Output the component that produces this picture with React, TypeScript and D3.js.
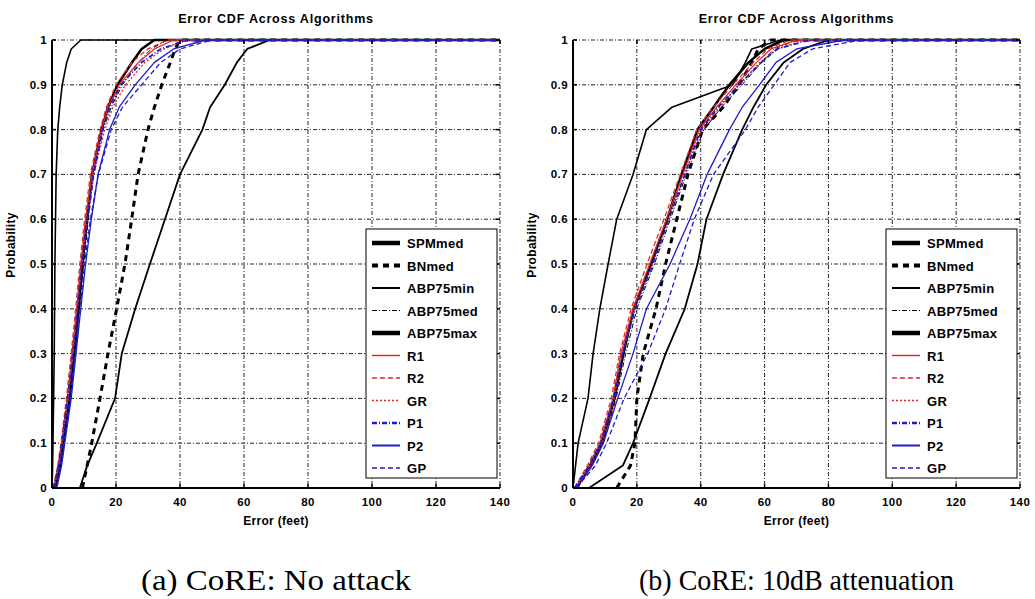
import React from 'react';
import * as d3 from 'd3';

// probability levels shared by every CDF series (last 1 repeated to run flat to 140)
const PROBS = [0, 0.05, 0.1, 0.2, 0.3, 0.4, 0.5, 0.6, 0.7, 0.8, 0.85, 0.9, 0.95, 0.98, 1, 1];

const X_TICKS = [0, 20, 40, 60, 80, 100, 120, 140];
const Y_TICKS = [0, 0.1, 0.2, 0.3, 0.4, 0.5, 0.6, 0.7, 0.8, 0.9, 1];

const SERIES = ['SPMmed', 'BNmed', 'ABP75min', 'ABP75med', 'ABP75max', 'R1', 'R2', 'GR', 'P1', 'P2', 'GP'];

// (a) no attack — error (feet) at each probability level
const aSPMmed = [1, 2.5, 3.5, 5.5, 7, 8.3, 9.5, 11, 12.5, 15.5, 17.5, 20.5, 25, 28, 32, 140];
const aBNmed = [9.5, 11, 12.4, 15, 17.5, 20.2, 22.8, 24.9, 26.9, 30, 32, 34.3, 37, 38.5, 40, 140];
const aABP75min = [0, 0.2, 0.3, 0.5, 0.7, 0.8, 0.9, 1.1, 1.3, 1.8, 2.4, 3.2, 4.6, 6, 9, 140];
const aABP75med = [1.2, 2.7, 3.7, 5.8, 7.3, 8.6, 9.9, 11.4, 13, 16, 18.5, 22, 27, 31, 36, 140];
const aABP75max = [8.7, 11, 14, 19.7, 21.8, 26, 30.6, 35.3, 40, 47, 49.4, 54, 57.8, 61, 68, 140];
const aR1 = [0.5, 2, 3, 4.8, 6.3, 7.7, 9, 10.5, 12.5, 15.5, 17.5, 21, 27, 32, 38, 140];
const aR2 = [0.3, 1.8, 2.8, 4.5, 6, 7.4, 8.7, 10.2, 12, 15, 17, 20, 25, 30, 36, 140];
const aGR = [0.8, 2.2, 3.2, 5, 6.6, 8, 9.4, 11, 13, 16.5, 19, 23, 29, 35, 42, 140];
const aP1 = [0.5, 2, 3, 4.9, 6.5, 8, 9.3, 11, 13, 15.8, 18, 21.5, 28, 34, 42, 140];
const aP2 = [1.5, 3, 4, 6, 7.5, 9, 10.5, 12.3, 14.4, 18, 21, 26, 32, 38, 48, 140];
const aGP = [1, 2.5, 3.6, 5.6, 7.2, 8.7, 10.2, 12, 14.5, 18.5, 22, 28, 34, 40, 50, 140];

// (b) 10dB attenuation
const bSPMmed = [1, 5.5, 9, 13, 15.8, 19, 24.5, 29.5, 34, 39, 44, 49, 55, 60, 66, 140];
const bBNmed = [13.7, 18, 19.4, 20, 22, 26, 29, 32.5, 36, 40.6, 47, 52, 56, 58, 62, 140];
const bABP75min = [0, 0.8, 1.6, 4.7, 6.3, 8.4, 11, 13.7, 18.8, 23, 31, 50, 54, 56, 65, 140];
const bABP75med = [1.5, 6, 9.5, 13.5, 16.5, 20, 25.5, 30.5, 35.5, 41, 46.5, 53, 59, 63, 70, 140];
const bABP75max = [5, 15.6, 18.8, 24, 29, 35, 39, 41.8, 47, 53, 56.5, 60.5, 66, 72, 80, 140];
const bR1 = [1, 5, 8.4, 12.5, 15, 18.8, 24, 29.3, 34.4, 39.6, 45, 51, 57.5, 62, 70, 140];
const bR2 = [0.5, 4.5, 8, 12, 14.6, 18.2, 23.2, 28.5, 33.6, 38.8, 44, 50, 56.5, 61, 68, 140];
const bGR = [1.5, 5.5, 9, 13, 15.5, 19.3, 24.8, 30, 35, 40.5, 46, 52, 58.5, 64, 72, 140];
const bP1 = [0.5, 5, 8.7, 12.7, 15.5, 19.5, 25, 30, 35, 40, 45.5, 52, 59, 64, 74, 140];
const bP2 = [1, 6, 9.5, 14, 18.8, 23, 30.4, 36.6, 42, 49, 53, 58.4, 63.6, 70, 85, 140];
const bGP = [1, 7, 10.5, 16, 23.4, 29, 33.4, 38, 44, 54, 58, 63, 68, 75, 90, 140];

const PANEL_A = [aSPMmed, aBNmed, aABP75min, aABP75med, aABP75max, aR1, aR2, aGR, aP1, aP2, aGP];
const PANEL_B = [bSPMmed, bBNmed, bABP75min, bABP75med, bABP75max, bR1, bR2, bGR, bP1, bP2, bGP];

const RED = '#e02a2a';
const BLUE = '#1c1cc8';
const STYLES: Record<string, { color: string; width: number; dash?: string; legendWidth?: number }> = {
  SPMmed: { color: '#000', width: 2.5, legendWidth: 4.5 },
  BNmed: { color: '#000', width: 3, dash: '6,5', legendWidth: 4 },
  ABP75min: { color: '#000', width: 1.6, legendWidth: 2 },
  ABP75med: { color: '#000', width: 1, dash: '5,2,1,2', legendWidth: 1 },
  ABP75max: { color: '#000', width: 1.8, legendWidth: 4.5 },
  R1: { color: RED, width: 1.3, legendWidth: 1.5 },
  R2: { color: RED, width: 1.3, dash: '5,3', legendWidth: 1.5 },
  GR: { color: RED, width: 1.3, dash: '2,2', legendWidth: 1.5 },
  P1: { color: BLUE, width: 1.8, dash: '5,2,1,2', legendWidth: 2.5 },
  P2: { color: BLUE, width: 1.3, legendWidth: 2 },
  GP: { color: BLUE, width: 1.3, dash: '5,3', legendWidth: 1.5 },
};

const FONT = 'Liberation Sans, Arial, sans-serif';

function Panel({ left, right, data, caption, captionLen }: any) {
  const top = 40;
  const bottom = 488;
  const x = d3.scaleLinear().domain([0, 140]).range([left, right]);
  const y = d3.scaleLinear().domain([0, 1]).range([bottom, top]);
  const line = d3.line<number>()
    .x(d => x(d))
    .y((_, i) => y(PROBS[i]));
  const cx = (left + right) / 2;
  const lx = right - 134;
  const ly = 229;

  return (
    <g>
      <text x={cx} y={23} textAnchor="middle" fontFamily={FONT} fontWeight="bold" fontSize={12.5} letterSpacing={0.8}>
        Error CDF Across Algorithms
      </text>
      {/* grid */}
      {X_TICKS.slice(1).map(t => (
        <line key={'gx' + t} x1={x(t)} x2={x(t)} y1={top} y2={bottom} stroke="#000" strokeWidth={1} strokeDasharray="4,2,1,2" opacity={0.85} />
      ))}
      {Y_TICKS.slice(1).map(t => (
        <line key={'gy' + t} x1={left} x2={right} y1={y(t)} y2={y(t)} stroke="#000" strokeWidth={1} strokeDasharray="4,2,1,2" opacity={0.85} />
      ))}
      {/* curves */}
      {data.map((xs: number[], i: number) => {
        const s = STYLES[SERIES[i]];
        return (
          <path key={SERIES[i]} d={line(xs) || ''} fill="none" stroke={s.color} strokeWidth={s.width}
            strokeDasharray={s.dash} strokeLinejoin="round" />
        );
      })}
      {/* axes */}
      <line x1={left} x2={left} y1={top} y2={bottom} stroke="#000" strokeWidth={2} />
      <line x1={left} x2={right} y1={bottom} y2={bottom} stroke="#000" strokeWidth={2} />
      {Y_TICKS.map(t => (
        <g key={'ty' + t}>
          <line x1={left} x2={left + 4} y1={y(t)} y2={y(t)} stroke="#000" strokeWidth={1.5} />
          <line x1={right} x2={right - 4} y1={y(t)} y2={y(t)} stroke="#000" strokeWidth={1.5} />
          <text x={left - 5} y={y(t) + 4} textAnchor="end" fontFamily={FONT} fontWeight="bold" fontSize={11.5} letterSpacing={0.4}>
            {t === 0 || t === 1 ? String(t) : t.toFixed(1)}
          </text>
        </g>
      ))}
      {X_TICKS.map(t => (
        <g key={'tx' + t}>
          <line x1={x(t)} x2={x(t)} y1={bottom} y2={bottom - 4} stroke="#000" strokeWidth={1.5} />
          <line x1={x(t)} x2={x(t)} y1={top} y2={top + 4} stroke="#000" strokeWidth={1.5} />
          <text x={x(t)} y={bottom + 18} textAnchor="middle" fontFamily={FONT} fontWeight="bold" fontSize={11.5} letterSpacing={0.4}>
            {t}
          </text>
        </g>
      ))}
      <text x={cx} y={bottom + 37} textAnchor="middle" fontFamily={FONT} fontWeight="bold" fontSize={12} letterSpacing={0.3}>
        Error (feet)
      </text>
      <text transform={`translate(${left - 37},${245}) rotate(-90)`} textAnchor="middle" fontFamily={FONT} fontWeight="bold" fontSize={12} letterSpacing={0.3}>
        Probability
      </text>
      {/* legend */}
      <rect x={lx} y={ly} width={131} height={249} fill="#fff" stroke="#000" strokeWidth={1} />
      {SERIES.map((name, i) => {
        const s = STYLES[name];
        const yy = ly + 14 + i * 22.5;
        return (
          <g key={'lg' + name}>
            <line x1={lx + 6} x2={lx + 34} y1={yy} y2={yy} stroke={s.color} strokeWidth={s.legendWidth}
              strokeDasharray={s.dash} />
            <text x={lx + 41} y={yy + 5} fontFamily={FONT} fontWeight="bold" fontSize={13} letterSpacing={0.3}>
              {name}
            </text>
          </g>
        );
      })}
      <text x={cx} y={590} textAnchor="middle" fontFamily="Liberation Serif, Times New Roman, serif" fontSize={29}
        textLength={captionLen} lengthAdjust="spacingAndGlyphs">
        {caption}
      </text>
    </g>
  );
}

export default function App() {
  return (
    <svg width={1035} height={599} style={{ position: 'absolute', left: 0, top: 0, background: '#fff' }}>
      <rect width={1035} height={599} fill="#fff" />
      <Panel left={52} right={500} data={PANEL_A} caption="(a) CoRE: No attack" captionLen={270} />
      <Panel left={573} right={1020} data={PANEL_B} caption="(b) CoRE: 10dB attenuation" captionLen={315} />
    </svg>
  );
}
